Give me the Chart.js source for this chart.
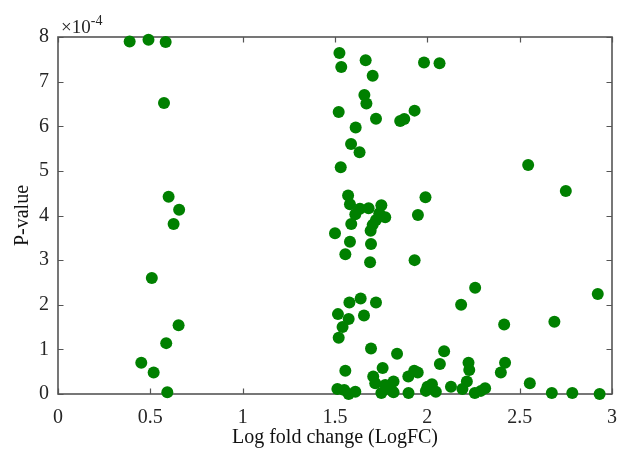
<!DOCTYPE html>
<html>
<head>
<meta charset="utf-8">
<script src="https://cdn.jsdelivr.net/npm/chart.js@4.4.1/dist/chart.umd.min.js"></script>
<style>
  html, body { margin: 0; padding: 0; background: #fff; }
  canvas { display: block; }
</style>
</head>
<body>
<canvas id="volcano" width="629" height="461"></canvas>
<script>
// Log fold change of each gene
const logFC = [
  0.388, 0.49, 0.583, 0.574, 0.599, 0.656, 0.626, 0.508, 0.653, 0.586, 0.451, 0.518, 0.592,
  1.524, 1.534, 1.666, 1.704, 1.982, 2.066, 1.659, 1.670, 1.520, 1.722, 1.853, 1.875, 1.931, 1.612, 1.587, 1.633, 1.531,
  2.546, 2.750,
  1.571, 1.581, 1.635, 1.682, 1.751, 1.772, 1.610, 1.740, 1.722, 1.704, 1.693, 1.588, 1.990, 1.949, 1.500, 1.581, 1.695, 1.556, 1.690, 1.931,
  1.578, 1.639, 1.722, 1.516, 1.574, 1.657, 1.541, 1.520, 2.259, 2.183, 2.923, 2.416, 2.688,
  1.513, 1.550, 1.574, 1.610, 1.556, 1.707, 1.718, 1.758, 1.695, 1.836, 1.751, 1.772, 1.808, 1.817, 1.817, 1.898, 1.897, 1.929, 1.948, 2.001,
  2.025, 2.046, 1.992, 2.128, 2.091, 2.068, 2.190, 2.214, 2.223, 2.227, 2.257, 2.290, 2.313, 2.398, 2.421, 2.555, 2.674, 2.785, 2.933
];
// P-values, in units of 1e-4
const pValueE4 = [
  7.90, 7.94, 7.89, 6.52, 4.42, 4.13, 3.81, 2.60, 1.54, 1.14, 0.70, 0.48, 0.04,
  7.64, 7.33, 7.48, 7.13, 7.43, 7.41, 6.70, 6.51, 6.32, 6.17, 6.12, 6.16, 6.35, 5.97, 5.60, 5.42, 5.08,
  5.13, 4.55,
  4.45, 4.25, 4.15, 4.16, 4.23, 3.96, 4.03, 4.05, 3.90, 3.79, 3.66, 3.81, 4.41, 4.01, 3.60, 3.41, 3.36, 3.13, 2.95, 3.00,
  2.05, 2.14, 2.05, 1.79, 1.68, 1.76, 1.50, 1.26, 2.38, 2.00, 2.24, 1.56, 1.62,
  0.11, 0.09, 0.00, 0.05, 0.52, 0.39, 0.24, 0.58, 1.02, 0.90, 0.02, 0.20, 0.07, 0.28, 0.04, 0.02, 0.39, 0.52, 0.48, 0.16,
  0.22, 0.05, 0.07, 0.16, 0.96, 0.67, 0.11, 0.28, 0.70, 0.54, 0.02, 0.07, 0.13, 0.48, 0.70, 0.24, 0.02, 0.02, 0.00
];
const xTicks = [0, 0.5, 1, 1.5, 2, 2.5, 3];
const yTicks = [0, 1, 2, 3, 4, 5, 6, 7, 8];

const serif = "'Liberation Serif', 'Times New Roman', serif";
const axisColor = "#555555";
const textColor = "#262626";

// MATLAB-like box with inward ticks and the exponent label
const boxPlugin = {
  id: "box",
  beforeDatasetsDraw(chart) {
    const { ctx, chartArea: a, scales } = chart;
    const len = 5.5;
    ctx.save();
    ctx.strokeStyle = axisColor;
    ctx.lineWidth = 1.2;
    ctx.beginPath();
    xTicks.forEach((v) => {
      const x = Math.round(scales.x.getPixelForValue(v)) + 0.5;
      ctx.moveTo(x, a.bottom); ctx.lineTo(x, a.bottom - len);
      ctx.moveTo(x, a.top); ctx.lineTo(x, a.top + len);
    });
    yTicks.forEach((v) => {
      const y = Math.round(scales.y.getPixelForValue(v)) + 0.5;
      ctx.moveTo(a.left, y); ctx.lineTo(a.left + len, y);
      ctx.moveTo(a.right, y); ctx.lineTo(a.right - len, y);
    });
    ctx.stroke();
    ctx.lineWidth = 1.6;
    ctx.strokeRect(a.left, a.top, a.right - a.left, a.bottom - a.top);

    ctx.fillStyle = textColor;
    ctx.textBaseline = "alphabetic";
    ctx.textAlign = "left";
    ctx.font = "19px " + serif;
    ctx.fillText("\u00d710", a.left + 3, a.top - 4);
    const w = ctx.measureText("\u00d710").width;
    ctx.font = "14px " + serif;
    ctx.fillText("-4", a.left + 3 + w, a.top - 12);
    ctx.restore();
  },
};

new Chart(document.getElementById("volcano"), {
  type: "scatter",
  data: {
    datasets: [
      {
        data: logFC.map((x, i) => ({ x: x, y: pValueE4[i] })),
        backgroundColor: "#008000",
        borderColor: "#008000",
        borderWidth: 0,
        pointRadius: 6,
        clip: false,
      },
    ],
  },
  options: {
    responsive: false,
    animation: false,
    devicePixelRatio: 1,
    layout: { padding: { left: 0, right: 16, top: 37, bottom: 0 } },
    plugins: { legend: { display: false }, tooltip: { enabled: false } },
    scales: {
      x: {
        type: "linear",
        min: 0,
        max: 3,
        afterBuildTicks: (s) => { s.ticks = xTicks.map((v) => ({ value: v })); },
        afterFit: (s) => { s.height = 67; },
        grid: { display: false, drawTicks: false },
        border: { display: false },
        ticks: {
          color: textColor,
          padding: 12,
          font: { family: serif, size: 20 },
          maxRotation: 0,
          callback: (v) => String(v),
        },
        title: {
          display: true,
          text: "Log fold change (LogFC)",
          color: "#111",
          font: { family: serif, size: 20 },
          padding: { top: 0, bottom: 11 },
        },
      },
      y: {
        type: "linear",
        min: 0,
        max: 8,
        afterBuildTicks: (s) => { s.ticks = yTicks.map((v) => ({ value: v })); },
        afterFit: (s) => { s.width = 58; },
        grid: { display: false, drawTicks: false },
        border: { display: false },
        ticks: {
          color: textColor,
          padding: 9,
          font: { family: serif, size: 20 },
          callback: (v) => String(v),
        },
        title: {
          display: true,
          text: "P-value",
          color: "#111",
          font: { family: serif, size: 20 },
          padding: { top: 11, bottom: 0 },
        },
      },
    },
  },
  plugins: [boxPlugin],
});
</script>
</body>
</html>
